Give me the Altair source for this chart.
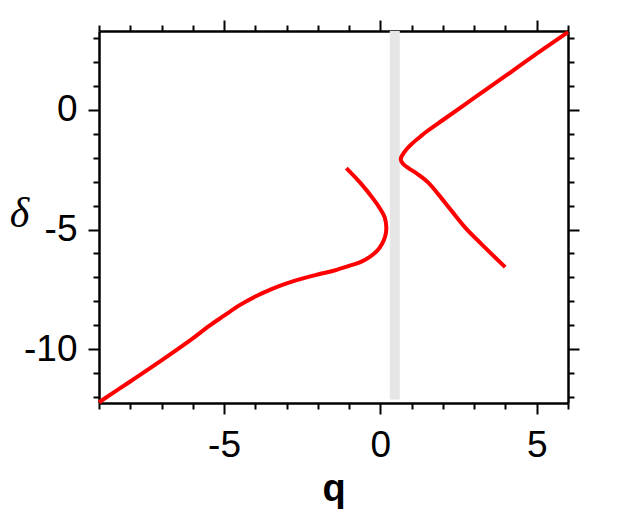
import altair as alt
import pandas as pd

# Lower-left branch (ordered along the curve)
lower_q = [-1.09, -0.64, -0.21, 0.0, 0.14, 0.19, 0.15, 0.05, -0.1, -0.35, -0.64,
           -1.0, -1.5, -2.0, -2.5, -3.0, -3.5, -4.0, -4.5, -5.0, -5.5, -6.0,
           -7.0, -8.0, -9.0]
lower_delta = [-2.43, -3.05, -3.75, -4.15, -4.5, -4.95, -5.3, -5.6, -5.88, -6.15, -6.36,
               -6.52, -6.72, -6.88, -7.05, -7.25, -7.5, -7.8, -8.16, -8.6, -9.05, -9.55,
               -10.47, -11.35, -12.22]

# Upper-right branch (ordered along the curve)
upper_q = [6.0, 5.0, 4.0, 3.0, 2.0, 1.5, 1.28, 1.0, 0.85, 0.72, 0.65, 0.72, 0.9,
           1.22, 1.54, 1.86, 2.29, 2.72, 3.25, 3.99]
upper_delta = [3.25, 2.35, 1.42, 0.5, -0.42, -0.88, -1.11, -1.42, -1.62, -1.85, -2.05,
               -2.25, -2.43, -2.71, -3.05, -3.54, -4.24, -4.93, -5.63, -6.57]

band_q = [0.30, 0.62]
band_delta = [-12.1, 3.3]

x_major = [-5, 0, 5]
y_major = [-10, -5, 0]
x_minor = [v for v in range(-9, 7) if v % 5 != 0]
y_minor = [v for v in range(-12, 4) if v % 5 != 0]
x_domain = [-9, 6]
y_domain = [-12.25, 3.3]

rows = []
for i, (q, d) in enumerate(zip(lower_q, lower_delta)):
    rows.append({"q": q, "delta": d, "branch": "lower", "idx": i})
for i, (q, d) in enumerate(zip(upper_q, upper_delta)):
    rows.append({"q": q, "delta": d, "branch": "upper", "idx": i})
df = pd.DataFrame(rows)

band_df = pd.DataFrame({"q0": [band_q[0]], "q1": [band_q[1]],
                        "d0": [band_delta[0]], "d1": [band_delta[1]]})

xs = alt.Scale(domain=x_domain, nice=False, zero=False)
ys = alt.Scale(domain=y_domain, nice=False, zero=False)

base = dict(domainColor="black", domainWidth=2.5, tickColor="black", tickWidth=2,
            grid=False, labelFont="Liberation Sans", labelFontSize=37,
            labelColor="black")

bottom_major = alt.Axis(orient="bottom", values=x_major, tickSize=11,
                        labelPadding=13, labelFlush=False, labelOverlap=False,
                        labelExpr="'' + datum.value",
                        title="q", titleFont="Liberation Sans", titleFontSize=38,
                        titleFontWeight="bold", titleColor="black",
                        titleX=234.5, titleY=97, titleBaseline="alphabetic",
                        titleAlign="center", **base)
left_major = alt.Axis(orient="left", values=y_major, tickSize=11,
                      labelPadding=11, labelFlush=False, labelOverlap=False,
                      labelExpr="'' + datum.value",
                      title="δ", titleFont="Liberation Serif", titleFontSize=42,
                      titleFontStyle="italic", titleFontWeight="normal",
                      titleColor="black", titleAngle=0, titleX=-80, titleY=182.5,
                      titleAlign="center", titleBaseline="middle", **base)
top_major = alt.Axis(orient="top", values=x_major, tickSize=11, labels=False,
                     title=None, **base)
right_major = alt.Axis(orient="right", values=y_major, tickSize=11, labels=False,
                       title=None, **base)

minor = dict(tickColor="black", tickWidth=2, tickSize=6, grid=False, labels=False,
             domain=False, title=None)
bottom_minor = alt.Axis(orient="bottom", values=x_minor, **minor)
top_minor = alt.Axis(orient="top", values=x_minor, **minor)
left_minor = alt.Axis(orient="left", values=y_minor, **minor)
right_minor = alt.Axis(orient="right", values=y_minor, **minor)


def band_layer(xaxis, yaxis, opacity):
    return alt.Chart(band_df).mark_rect(color="#e6e6e6", opacity=opacity).encode(
        x=alt.X("q0:Q", scale=xs, axis=xaxis),
        x2="q1",
        y=alt.Y("d0:Q", scale=ys, axis=yaxis),
        y2="d1",
    )


band = band_layer(top_major, right_major, 1)
ticks_a = band_layer(top_minor, right_minor, 0)
ticks_b = band_layer(bottom_minor, left_minor, 0)

lines = alt.Chart(df).mark_line(color="#ff0000", strokeWidth=4,
                                interpolate="catmull-rom").encode(
    x=alt.X("q:Q", scale=xs, axis=bottom_major),
    y=alt.Y("delta:Q", scale=ys, axis=left_major),
    detail="branch:N",
    order="idx:Q",
)

chart = alt.layer(band, ticks_a, ticks_b, lines).resolve_axis(
    x="independent", y="independent"
).properties(
    width=469, height=372,
    autosize=alt.AutoSizeParams(type="none"),
    padding={"left": 91, "top": 23, "right": 46, "bottom": 106},
).configure_view(stroke=None)

chart.save("out.html", embed_options={"renderer": "svg", "actions": False})
